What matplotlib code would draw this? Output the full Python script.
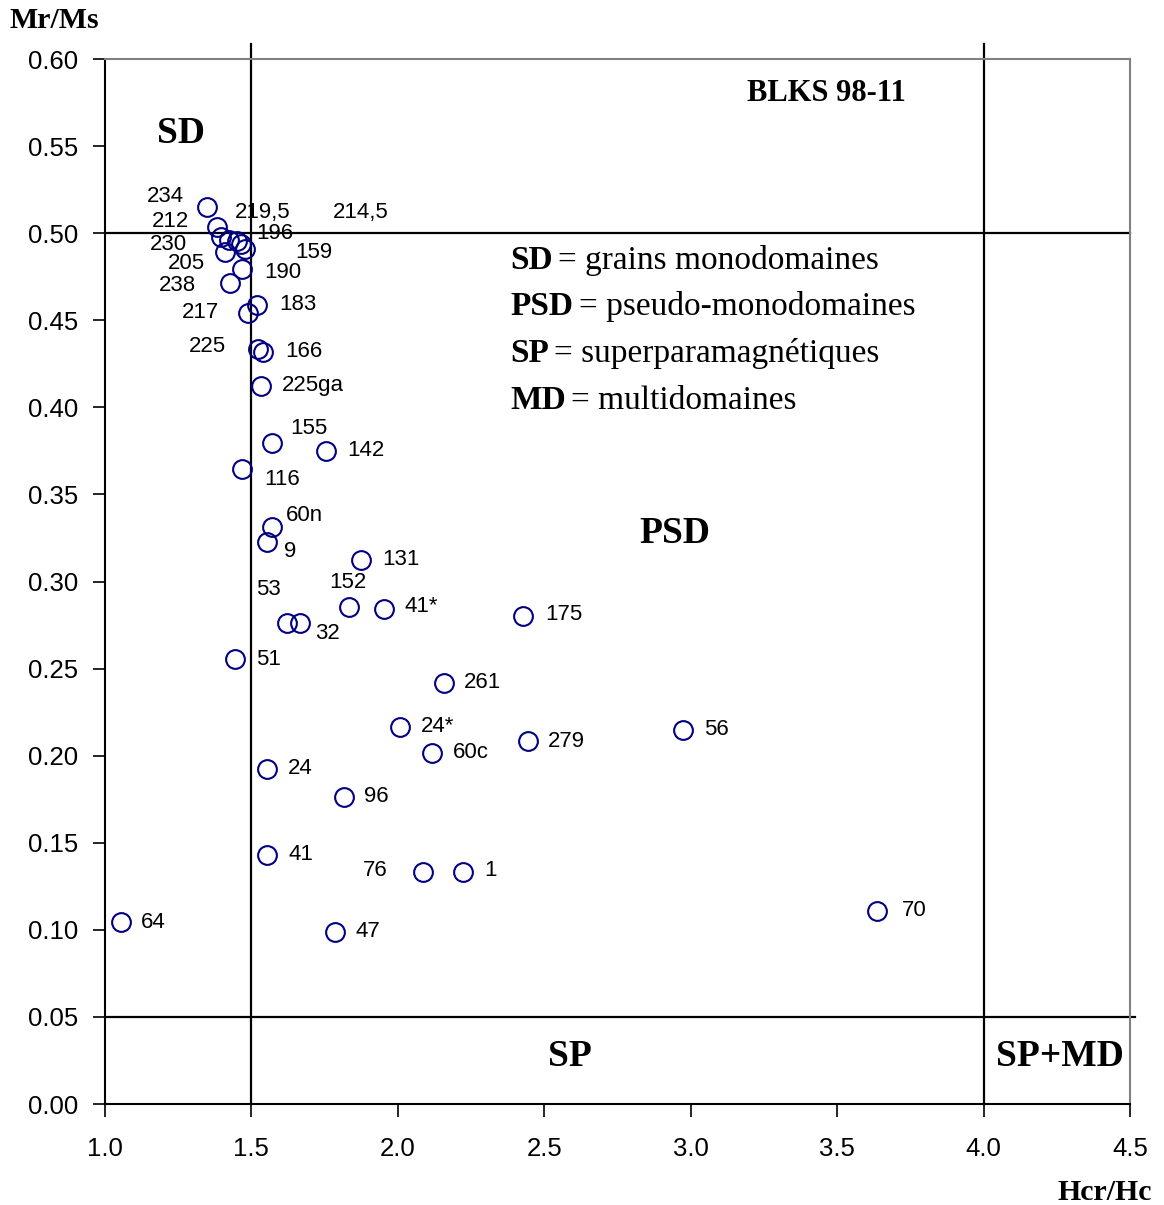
import matplotlib
matplotlib.use("Agg")
import matplotlib.pyplot as plt

# Hcr/Hc vs Mr/Ms (Day plot), BLKS 98-11
samples = ["234", "212", "230", "219,5", "214,5", "196", "159", "205", "190", "238",
           "217", "183", "225", "166", "225ga", "155", "142", "116", "60n", "9",
           "131", "152", "41*", "175", "53", "32", "51", "261", "24*", "60c",
           "279", "56", "24", "96", "41", "76", "1", "70", "64", "47"]
hcr_hc = [1.348, 1.382, 1.396, 1.423, 1.451, 1.464, 1.478, 1.410, 1.468, 1.427,
          1.488, 1.519, 1.522, 1.539, 1.532, 1.569, 1.754, 1.467, 1.571, 1.554,
          1.873, 1.833, 1.952, 2.428, 1.620, 1.666, 1.444, 2.158, 2.007, 2.117,
          2.444, 2.974, 1.553, 1.816, 1.553, 2.086, 2.222, 3.636, 1.055, 1.785]
mr_ms = [0.515, 0.5035, 0.498, 0.496, 0.4955, 0.494, 0.491, 0.489, 0.4795, 0.4715,
         0.4542, 0.4588, 0.4335, 0.4318, 0.4122, 0.3793, 0.3749, 0.3644, 0.3311, 0.3229,
         0.3123, 0.2856, 0.2842, 0.2802, 0.2764, 0.2764, 0.2553, 0.2417, 0.2165, 0.2015,
         0.2084, 0.2147, 0.1923, 0.1763, 0.1430, 0.1332, 0.1332, 0.1108, 0.1045, 0.0988]
# where each sample name is written
label_x = [1.143, 1.160, 1.154, 1.444, 1.779, 1.516, 1.649, 1.215, 1.543, 1.184,
           1.263, 1.594, 1.287, 1.615, 1.604, 1.632, 1.826, 1.543, 1.618, 1.611,
           1.946, 1.765, 2.024, 2.502, 1.516, 1.717, 1.516, 2.226, 2.079, 2.188,
           2.513, 3.045, 1.625, 1.884, 1.625, 1.881, 2.294, 3.721, 1.123, 1.854]
label_y = [0.5213, 0.507, 0.4935, 0.512, 0.512, 0.5001, 0.4892, 0.4828, 0.4777, 0.4700,
           0.4547, 0.4588, 0.4352, 0.4323, 0.4128, 0.3876, 0.3755, 0.3583, 0.3382, 0.3175,
           0.3129, 0.2997, 0.2854, 0.2808, 0.2957, 0.2704, 0.2555, 0.2423, 0.2170, 0.2021,
           0.2084, 0.2153, 0.1929, 0.1768, 0.1430, 0.1338, 0.1338, 0.1114, 0.1045, 0.0993]

# domain boundaries
sd_psd_x = 1.5
psd_md_x = 4.0
sd_psd_y = 0.5
sp_y = 0.05

legend_keys = ["SD", "PSD", "SP", "MD"]
legend_text = ["grains monodomaines", "pseudo-monodomaines",
               "superparamagnétiques", "multidomaines"]

sans = "Liberation Sans"
serif = "Liberation Serif"

fig = plt.figure(figsize=(11.64, 12.05), dpi=100)
ax = fig.add_axes([0.0902, 0.0838, 0.8806, 0.8672])

ax.plot(hcr_hc, mr_ms, linestyle="none", marker="o", markersize=13.5,
        markerfacecolor="none", markeredgecolor="#000080", markeredgewidth=1.5, zorder=3)
for name, lx, ly in zip(samples, label_x, label_y):
    ax.text(lx, ly, name, fontsize=16, family=sans, ha="left", va="center")

# boundary lines (they poke out a bit past the frame)
for xv in [sd_psd_x, psd_md_x]:
    ax.plot([xv, xv], [0, 0.6086], color="black", lw=1.6, clip_on=False, zorder=2)
ax.plot([1.0, 4.5], [sd_psd_y, sd_psd_y], color="black", lw=1.6, clip_on=False, zorder=2)
ax.plot([1.0, 4.516], [sp_y, sp_y], color="black", lw=1.6, clip_on=False, zorder=2)

ax.set_xlim(1.0, 4.5)
ax.set_ylim(0.0, 0.6)
ax.set_xticks([1.0, 1.5, 2.0, 2.5, 3.0, 3.5, 4.0, 4.5])
ax.set_yticks([0.0, 0.05, 0.1, 0.15, 0.2, 0.25, 0.3, 0.35, 0.4, 0.45, 0.5, 0.55, 0.6])
ax.set_xticklabels(["%.1f" % v for v in ax.get_xticks()], family=sans, fontsize=18.5)
ax.set_yticklabels(["%.2f" % v for v in ax.get_yticks()], family=sans, fontsize=18.5)
ax.tick_params(direction="out", length=9, width=1.2, colors="black", pad=10)
ax.tick_params(axis="x", pad=15)
ax.spines["top"].set_color("#808080")
ax.spines["right"].set_color("#808080")
for s in ax.spines.values():
    s.set_linewidth(1.5)

# region names
ax.text(1.259, 0.5575, "SD", family=serif, weight="bold", fontsize=27, ha="center", va="center")
ax.text(2.946, 0.3273, "PSD", family=serif, weight="bold", fontsize=27, ha="center", va="center")
ax.text(2.588, 0.027, "SP", family=serif, weight="bold", fontsize=27, ha="center", va="center")
ax.text(4.261, 0.027, "SP+MD", family=serif, weight="bold", fontsize=27, ha="center", va="center")
ax.text(3.465, 0.5805, "BLKS 98-11", family=serif, weight="bold", fontsize=22, ha="center", va="center")

# little legend, bold key then plain description
leg_y = [0.4846, 0.4582, 0.4312, 0.4042]
for key, desc, yy in zip(legend_keys, legend_text, leg_y):
    t = ax.text(2.383, yy, key, family=serif, weight="bold", fontsize=24, ha="left", va="center")
    ax.annotate("= " + desc, xy=(1, 0), xycoords=t, xytext=(4, 0), textcoords="offset points",
                family=serif, fontsize=24, ha="left", va="bottom")

fig.text(10 / 1164, 1 - 20 / 1205, "Mr/Ms", family=serif, weight="bold", fontsize=21.5,
         ha="left", va="center")
fig.text(1152 / 1164, 1 - 1192 / 1205, "Hcr/Hc", family=serif, weight="bold", fontsize=21.5,
         ha="right", va="center")

fig.savefig("out.png", dpi=100)
